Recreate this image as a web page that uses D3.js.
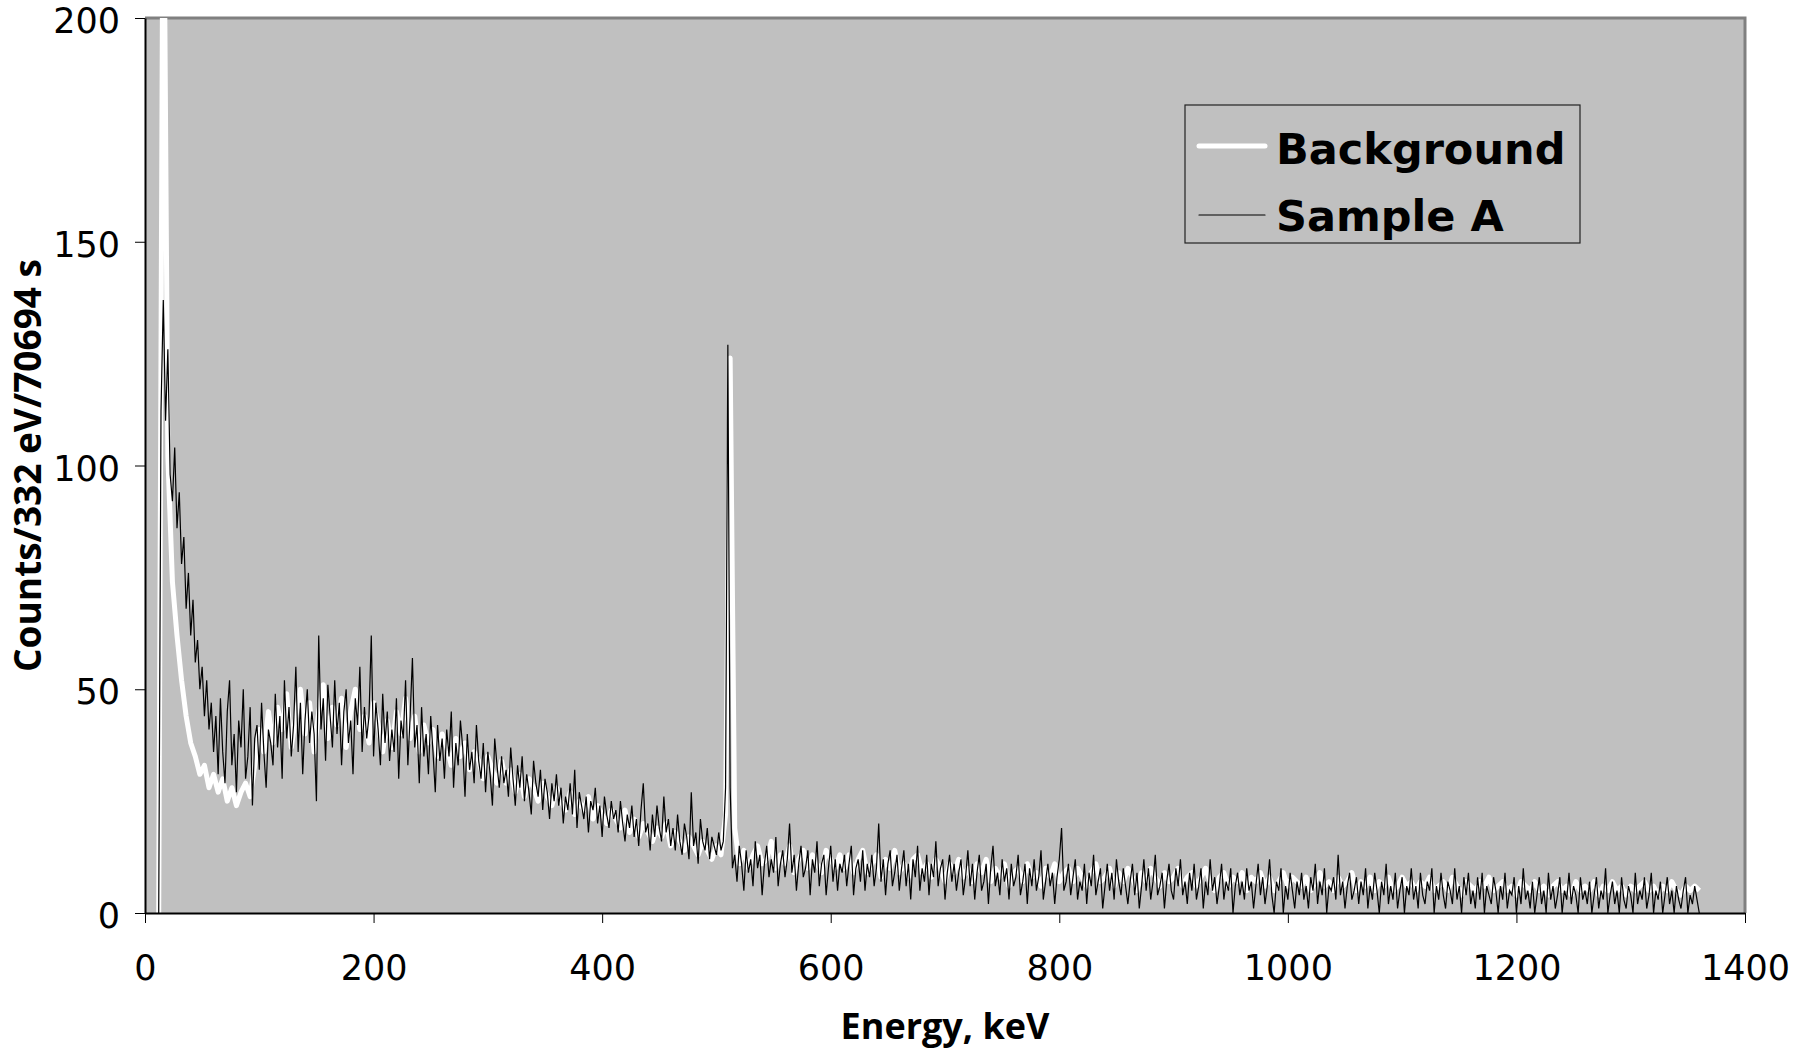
<!DOCTYPE html>
<html>
<head>
<meta charset="utf-8">
<script src="https://cdn.jsdelivr.net/npm/d3@7"></script>
<style>
  body { margin: 0; background: #fff; }
  svg { display: block; }
</style>
</head>
<body>
<svg id="chart" width="1804" height="1050"></svg>
<script>
const xTicks = [0, 200, 400, 600, 800, 1000, 1200, 1400];
const yTicks = [0, 50, 100, 150, 200];
const seriesNames = ['Background', 'Sample A'];

// energy grid of each series, keV
const sampleStart = 12;
const sampleStep = 2;
const backgroundStart = 12;
const backgroundStep = 4;

const sampleA = [
  0, 112, 137, 110, 126, 98, 92, 104, 86, 94, 78, 84, 68, 76, 62, 70, 56, 61, 50, 55, 44, 52, 41, 47, 36,
  44, 31, 48, 36, 29, 45, 52, 33, 40, 27, 43, 37, 50, 30, 35, 46, 24, 39, 42, 32, 47, 36, 28, 41, 38,
  33, 49, 37, 44, 30, 52, 39, 46, 35, 42, 55, 36, 47, 31, 43, 50, 38, 45, 40, 25, 62, 41, 48, 34, 51,
  44, 37, 52, 40, 47, 33, 45, 50, 38, 43, 31, 48, 42, 55, 36, 46, 39, 44, 62, 35, 47, 41, 33, 49, 38,
  45, 34, 41, 36, 48, 30, 43, 39, 52, 33, 44, 57, 37, 42, 29, 46, 35, 40, 31, 44, 36, 27, 42, 34, 39,
  30, 41, 35, 45, 28, 38, 33, 43, 37, 26, 40, 32, 36, 29, 42, 34, 30, 38, 27, 36, 31, 24, 39, 33, 28,
  35, 29, 32, 26, 37, 30, 24, 33, 28, 35, 25, 31, 27, 22, 34, 29, 26, 32, 23, 30, 27, 21, 29, 25, 31,
  24, 28, 20, 26, 23, 29, 22, 32, 19, 27, 24, 21, 26, 18, 25, 23, 28, 20, 24, 17, 26, 22, 19, 25, 21,
  23, 18, 25, 20, 16, 22, 19, 24, 17, 21, 15, 23, 29, 18, 20, 14, 22, 17, 24, 19, 16, 26, 18, 21, 15,
  19, 14, 22, 16, 13, 20, 17, 12, 27, 15, 18, 11, 21, 16, 14, 19, 12, 17, 15, 13, 18, 14, 16, 28, 127,
  28, 10, 13, 7, 15, 11, 5, 14, 9, 12, 6, 16, 10, 13, 4, 11, 15, 8, 12, 9, 17, 6, 11, 14, 8,
  12, 20, 9, 13, 5, 11, 15, 8, 10, 14, 4, 12, 9, 16, 6, 11, 13, 4, 10, 15, 7, 12, 5, 11, 9,
  13, 6, 11, 15, 4, 10, 12, 7, 14, 5, 11, 8, 13, 6, 10, 20, 7, 12, 4, 11, 14, 6, 9, 13, 5,
  10, 14, 6, 11, 3, 12, 8, 15, 5, 10, 7, 13, 4, 11, 8, 16, 6, 10, 12, 3, 9, 13, 7, 11, 5,
  9, 12, 4, 8, 14, 6, 11, 3, 9, 13, 5, 7, 11, 2, 10, 15, 6, 9, 4, 12, 7, 10, 3, 11, 6,
  8, 13, 4, 7, 11, 2, 10, 6, 12, 5, 8, 14, 3, 7, 11, 6, 9, 2, 8, 12, 19, 5, 7, 11, 4,
  8, 12, 3, 7, 5, 11, 2, 9, 6, 13, 4, 7, 10, 1, 6, 11, 5, 9, 3, 12, 7, 4, 10, 6, 2,
  7, 11, 4, 9, 1, 6, 12, 5, 10, 3, 7, 13, 4, 6, 9, 1, 7, 11, 5, 3, 10, 6, 12, 4, 7,
  2, 9, 5, 11, 3, 6, 10, 1, 7, 4, 12, 5, 8, 2, 6, 11, 3, 7, 5, 10, 0, 6, 9, 4, 7,
  3, 10, 5, 7, 1, 6, 11, 4, 8, 2, 6, 12, 4, 0, 7, 5, 10, 0, 6, 3, 9, 5, 1, 7, 4,
  9, 3, 6, 1, 8, 5, 11, 2, 7, 4, 10, 0, 6, 5, 8, 3, 13, 4, 7, 1, 6, 9, 3, 5, 8,
  2, 7, 4, 10, 1, 6, 3, 9, 5, 0, 7, 4, 11, 2, 6, 3, 9, 1, 5, 8, 0, 6, 4, 10, 3,
  6, 1, 9, 4, 2, 7, 5, 10, 0, 6, 3, 9, 4, 1, 7, 5, 2, 10, 3, 6, 0, 8, 4, 9, 2,
  5, 1, 8, 3, 9, 0, 6, 4, 2, 8, 5, 0, 6, 3, 9, 1, 5, 4, 8, 0, 6, 2, 10, 3, 5,
  1, 7, 0, 4, 8, 2, 5, 0, 9, 3, 6, 1, 4, 8, 0, 5, 3, 9, 2, 6, 4, 0, 8, 3, 5,
  2, 7, 0, 4, 8, 1, 5, 3, 10, 0, 4, 7, 2, 5, 0, 8, 3, 1, 6, 4, 0, 9, 2, 5, 3,
  8, 1, 4, 9, 0, 5, 3, 7, 0, 4, 8, 2, 5, 0, 6, 3, 1, 5, 8, 0, 4, 2, 6, 3, 0
];

const background = [
  0, 250, 102, 74, 62, 52, 44, 38, 35, 31, 33, 28, 31, 27, 30, 25, 28, 24, 27, 29, 26, 33, 41, 36, 45,
  38, 46, 41, 49, 37, 44, 50, 40, 47, 36, 45, 51, 39, 46, 42, 48, 37, 45, 50, 41, 44, 38, 47, 42, 36,
  43, 37, 45, 40, 48, 39, 44, 36, 42, 38, 41, 35, 40, 37, 33, 39, 35, 38, 32, 36, 34, 30, 35, 32, 29,
  34, 29, 32, 27, 31, 26, 30, 28, 25, 29, 26, 24, 28, 25, 23, 27, 22, 25, 23, 26, 21, 24, 22, 20, 23,
  21, 19, 23, 18, 21, 17, 20, 18, 16, 19, 17, 20, 15, 18, 16, 14, 17, 15, 13, 16, 14, 12, 15, 13, 22,
  124, 19, 11, 14, 10, 13, 15, 11, 12, 16, 10, 13, 11, 15, 9, 12, 14, 10, 13, 11, 9, 14, 12, 10, 13,
  10, 13, 9, 12, 14, 9, 11, 13, 8, 12, 10, 14, 9, 11, 8, 12, 13, 9, 11, 8, 12, 10, 7, 11, 9,
  12, 8, 10, 7, 11, 9, 12, 7, 10, 8, 11, 6, 9, 10, 7, 11, 8, 9, 6, 10, 8, 11, 7, 9, 10,
  7, 10, 8, 6, 9, 11, 7, 8, 10, 6, 9, 7, 10, 8, 5, 9, 7, 10, 8, 6, 9, 7, 8, 10, 6,
  8, 9, 6, 8, 10, 7, 5, 8, 9, 6, 8, 7, 9, 5, 8, 7, 9, 6, 8, 5, 7, 9, 6, 8, 7,
  6, 8, 5, 7, 9, 6, 7, 5, 8, 6, 7, 9, 5, 7, 6, 8, 5, 7, 6, 8, 5, 6, 8, 6, 7,
  5, 7, 6, 8, 5, 6, 7, 5, 8, 6, 4, 7, 6, 5, 7, 6, 8, 5, 6, 7, 5, 6, 4, 7, 6,
  5, 7, 5, 6, 4, 6, 7, 5, 6, 4, 7, 5, 6, 5, 7, 4, 6, 5, 7, 5, 6, 4, 6, 5, 6,
  7, 5, 6, 4, 6, 5, 7, 5, 4, 6, 5, 6, 5
];

const width = 1804;
const height = 1050;
const margin = { top: 18, right: 59, bottom: 137, left: 145 };
const boundsWidth = width - margin.left - margin.right;
const boundsHeight = height - margin.top - margin.bottom;

const tickFont = '"DejaVu Sans", Verdana, sans-serif';
const titleFont = '"Open Sans", "Noto Sans", sans-serif';

const scaleX = d3.scaleLinear().domain([0, 1400]).range([0, boundsWidth]);
const scaleY = d3.scaleLinear().domain([0, 200]).range([boundsHeight, 0]);

const svg = d3.select('#chart');
svg.selectAll('*').remove();

svg.append('defs')
  .append('clipPath')
  .attr('id', 'plot-clip')
  .append('rect')
  .attr('width', boundsWidth)
  .attr('height', boundsHeight);

const g = svg.append('g').attr('transform', `translate(${margin.left}, ${margin.top})`);

g.append('rect')
  .attr('width', boundsWidth)
  .attr('height', boundsHeight)
  .style('fill', '#c0c0c0');

// grey frame on top and right
g.append('path')
  .attr('d', `M0,0H${boundsWidth}V${boundsHeight}`)
  .style('fill', 'none')
  .style('stroke', '#808080')
  .style('stroke-width', 3);

const plot = g.append('g').attr('clip-path', 'url(#plot-clip)');

const lineFor = (start, step) =>
  d3.line()
    .x((d, i) => scaleX(start + i * step))
    .y((d) => scaleY(d));

plot.append('path')
  .datum(background)
  .attr('d', lineFor(backgroundStart, backgroundStep))
  .style('fill', 'none')
  .style('stroke', '#fff')
  .style('stroke-width', 5)
  .style('stroke-linejoin', 'round');

plot.append('path')
  .datum(sampleA)
  .attr('d', lineFor(sampleStart, sampleStep))
  .style('fill', 'none')
  .style('stroke', '#000')
  .style('stroke-width', 1.2)
  .style('stroke-linejoin', 'miter');

const xAxis = d3.axisBottom(scaleX)
  .tickValues(xTicks)
  .tickSize(10)
  .tickSizeOuter(0)
  .tickPadding(32)
  .tickFormat(d3.format('d'));

g.append('g')
  .attr('transform', `translate(0, ${boundsHeight})`)
  .call(xAxis)
  .call((a) => a.select('.domain').style('stroke', '#000').style('stroke-width', 2))
  .selectAll('text')
  .style('font-family', tickFont)
  .style('font-size', '35px')
  .style('fill', '#000');

const yAxis = d3.axisLeft(scaleY)
  .tickValues(yTicks)
  .tickSize(10)
  .tickSizeOuter(0)
  .tickPadding(15);

g.append('g')
  .call(yAxis)
  .call((a) => a.select('.domain').style('stroke', '#000').style('stroke-width', 2))
  .selectAll('text')
  .attr('dy', '0.42em')
  .style('font-family', tickFont)
  .style('font-size', '35px')
  .style('fill', '#000');

svg.append('text')
  .attr('x', margin.left + boundsWidth / 2)
  .attr('y', 1039)
  .attr('text-anchor', 'middle')
  .style('font-family', titleFont)
  .style('font-weight', 700)
  .style('font-size', '36px')
  .text('Energy, keV');

svg.append('text')
  .attr('transform', `translate(41, ${margin.top + boundsHeight / 2}) rotate(-90)`)
  .attr('text-anchor', 'middle')
  .style('font-family', titleFont)
  .style('font-weight', 700)
  .style('font-size', '37px')
  .text('Counts/332 eV/70694 s');

// legend
const legend = svg.append('g').attr('transform', 'translate(1185, 105)');
legend.append('rect')
  .attr('width', 395)
  .attr('height', 138)
  .style('fill', 'none')
  .style('stroke', '#222')
  .style('stroke-width', 1.2);

const legendRows = [
  { name: seriesNames[0], color: '#fff', width: 5, y: 41, base: 59 },
  { name: seriesNames[1], color: '#000', width: 1.2, y: 110, base: 126 },
];

legendRows.forEach((r) => {
  legend.append('line')
    .attr('x1', 14)
    .attr('x2', 80)
    .attr('y1', r.y)
    .attr('y2', r.y)
    .style('stroke', r.color)
    .style('stroke-width', r.width)
    .style('stroke-linecap', 'round');
  legend.append('text')
    .attr('x', 91)
    .attr('y', r.base)
    .style('font-family', '"DejaVu Sans", sans-serif')
    .style('font-weight', 700)
    .style('font-size', '43px')
    .text(r.name);
});
</script>
</body>
</html>
